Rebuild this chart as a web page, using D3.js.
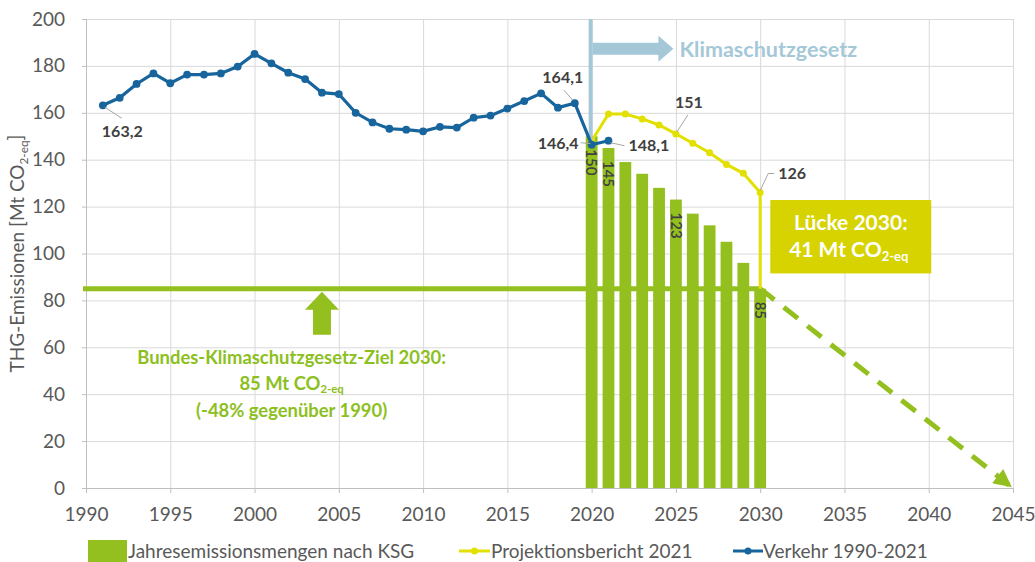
<!DOCTYPE html>
<html>
<head>
<meta charset="utf-8">
<script src="https://cdn.jsdelivr.net/npm/d3@7"></script>
<style>
  body { margin: 0; background: #fff; }
  svg { font-family: Lato, "Open Sans", sans-serif; }
</style>
</head>
<body>
<script>
// Verkehr 1990-2021 (Mt CO2-eq)
let verkehrYears = [1991, 1992, 1993, 1994, 1995, 1996, 1997, 1998, 1999, 2000,
                    2001, 2002, 2003, 2004, 2005, 2006, 2007, 2008, 2009, 2010,
                    2011, 2012, 2013, 2014, 2015, 2016, 2017, 2018, 2019, 2020, 2021];
let verkehrValues = [163.2, 166.4, 172.3, 176.8, 172.6, 176.3, 176.3, 176.8, 179.7, 185.1,
                     181.1, 177.1, 174.4, 168.6, 168.0, 160.0, 155.9, 153.2, 152.8, 152.1,
                     154.0, 153.7, 157.9, 158.8, 161.8, 165.0, 168.3, 162.2, 164.1, 146.4, 148.1];

// Projektionsbericht 2021
let projYears = [2020, 2021, 2022, 2023, 2024, 2025, 2026, 2027, 2028, 2029, 2030];
let projValues = [148, 159.5, 159.5, 157.4, 154.8, 151, 147, 143, 138, 134.2, 126];

// Jahresemissionsmengen nach KSG
let ksgYears = [2020, 2021, 2022, 2023, 2024, 2025, 2026, 2027, 2028, 2029, 2030];
let ksgValues = [150, 145, 139, 134, 128, 123, 117, 112, 105, 96, 85];
let ksgLabelled = [2020, 2021, 2025, 2030];

// Ziel
let targetValue = 85;
let targetStart = 1990, targetYear = 2030, neutralYear = 2045;

let xTicks = [1990, 1995, 2000, 2005, 2010, 2015, 2020, 2025, 2030, 2035, 2040, 2045];
let yTicks = [0, 20, 40, 60, 80, 100, 120, 140, 160, 180, 200];

const W = 1035, H = 562;
const margin = {top: 19, right: 22, bottom: 74, left: 86};

const green = '#93c01f', yellow = '#e2e000', blue = '#17659c', lightBlue = '#a5c8d8';
const labelColor = '#404040', tickColor = '#595959', gridColor = '#d9d9d9';

const de = d3.formatLocale({decimal: ',', thousands: '.', grouping: [3], currency: ['', ' €']});
const fmt1 = de.format('.1f');

let svg = d3.select('body').append('svg')
  .attr('width', W)
  .attr('height', H);

let x = d3.scaleLinear().domain([1990, 2045]).range([margin.left, W - margin.right]);
let y = d3.scaleLinear().domain([0, 200]).range([H - margin.bottom, margin.top]);
let plotW = W - margin.left - margin.right, plotH = H - margin.top - margin.bottom;

// gridlines
svg.append('g')
  .attr('transform', `translate(${margin.left},0)`)
  .call(d3.axisLeft(y).tickValues(yTicks).tickSize(-plotW).tickFormat(''))
  .call(g => g.select('.domain').remove())
  .call(g => g.selectAll('line').attr('stroke', gridColor));

svg.append('g')
  .attr('transform', `translate(0,${H - margin.bottom})`)
  .call(d3.axisBottom(x).tickValues(xTicks).tickSize(-plotH).tickFormat(''))
  .call(g => g.select('.domain').remove())
  .call(g => g.selectAll('line').attr('stroke', gridColor));

// axes
let xAxis = svg.append('g')
  .attr('transform', `translate(0,${H - margin.bottom})`)
  .call(d3.axisBottom(x).tickValues(xTicks).tickFormat(d3.format('d')).tickSize(5).tickPadding(15));
let yAxis = svg.append('g')
  .attr('transform', `translate(${margin.left},0)`)
  .call(d3.axisLeft(y).tickValues(yTicks).tickSize(4).tickPadding(17));
[xAxis, yAxis].forEach(a => {
  a.selectAll('path,line').attr('stroke', '#bfbfbf');
  a.selectAll('text').attr('fill', tickColor).style('font-size', '19px').style('font-family', 'Lato, sans-serif');
});

// helper: text with CO2-eq subscript
function subText(sel, before, sub, after) {
  sel.append('tspan').text(before);
  sel.append('tspan').text(sub).attr('font-size', '0.62em').attr('dy', '0.3em');
  if (after) sel.append('tspan').text(after).attr('dy', '-0.3em');
}

// y title
let yTitle = svg.append('text')
  .attr('transform', `translate(24,${(margin.top + H - margin.bottom) / 2}) rotate(-90)`)
  .attr('text-anchor', 'middle')
  .attr('fill', tickColor)
  .style('font-size', '19px');
subText(yTitle, 'THG-Emissionen [Mt CO', '2-eq', ']');

// KSG bars
let bw = (x(1) - x(0)) * 0.7;
let ksgData = ksgYears.map((yr, i) => ({yr, v: ksgValues[i]}));
svg.selectAll('rect.bar')
  .data(ksgData)
  .enter()
  .append('rect')
  .attr('class', 'bar')
  .attr('x', d => x(d.yr) - bw / 2)
  .attr('width', bw)
  .attr('y', d => y(d.v))
  .attr('height', d => y(0) - y(d.v))
  .attr('fill', green);

// target line
svg.append('line')
  .attr('x1', x(targetStart) - 3).attr('x2', x(targetYear))
  .attr('y1', y(targetValue)).attr('y2', y(targetValue))
  .attr('stroke', green).attr('stroke-width', 5);

// dashed path to 2045
let defs = svg.append('defs');
defs.append('marker')
  .attr('id', 'ahead')
  .attr('viewBox', '0 0 10 10')
  .attr('refX', 8).attr('refY', 5)
  .attr('markerWidth', 20).attr('markerHeight', 18)
  .attr('markerUnits', 'userSpaceOnUse')
  .attr('orient', 'auto')
  .append('path')
  .attr('d', 'M0,0 L10,5 L0,10 Z')
  .attr('fill', green);

svg.append('line')
  .attr('x1', x(targetYear)).attr('y1', y(targetValue))
  .attr('x2', x(neutralYear) - 4).attr('y2', y(0) - 3)
  .attr('stroke', green).attr('stroke-width', 5)
  .attr('stroke-dasharray', '18,12')
  .attr('marker-end', 'url(#ahead)');

// projection line
let line = d3.line().x(d => x(d[0])).y(d => y(d[1]));
let projPts = projYears.map((yr, i) => [yr, projValues[i]]);
svg.append('path')
  .attr('d', line(projPts.concat([[targetYear, targetValue]])))
  .attr('fill', 'none').attr('stroke', yellow).attr('stroke-width', 3);
svg.selectAll('circle.proj')
  .data(projPts)
  .enter().append('circle')
  .attr('class', 'proj')
  .attr('cx', d => x(d[0])).attr('cy', d => y(d[1]))
  .attr('r', 3.5).attr('fill', yellow);

// Klimaschutzgesetz marker
svg.append('line')
  .attr('x1', x(2020) - 1).attr('x2', x(2020) - 1)
  .attr('y1', y(200)).attr('y2', y(148))
  .attr('stroke', lightBlue).attr('stroke-width', 4);
{
  let x0 = x(2020) + 1, xt = x(2024.85), yc = y(187.3);
  let hl = 15, sh = 6, hh = 13;
  svg.append('path')
    .attr('d', `M${x0},${yc - sh}L${xt - hl},${yc - sh}L${xt - hl},${yc - hh}L${xt},${yc}L${xt - hl},${yc + hh}L${xt - hl},${yc + sh}L${x0},${yc + sh}Z`)
    .attr('fill', lightBlue);
  svg.append('text')
    .attr('x', xt + 6).attr('y', yc).attr('dy', '0.36em')
    .attr('fill', lightBlue)
    .style('font-size', '21.5px').style('font-weight', 700)
    .text('Klimaschutzgesetz');
}

// Verkehr line
let verkPts = verkehrYears.map((yr, i) => [yr, verkehrValues[i]]);
svg.append('path')
  .attr('d', line(verkPts))
  .attr('fill', 'none').attr('stroke', blue).attr('stroke-width', 3.2);
svg.selectAll('circle.verk')
  .data(verkPts)
  .enter().append('circle')
  .attr('class', 'verk')
  .attr('cx', d => x(d[0])).attr('cy', d => y(d[1]))
  .attr('r', 3.9).attr('fill', blue);

// bar labels (on top of the lines)
svg.selectAll('text.barlab')
  .data(ksgData.filter(d => ksgLabelled.includes(d.yr)))
  .enter()
  .append('text')
  .attr('class', 'barlab')
  .attr('transform', d => `translate(${x(d.yr)},${y(d.v) + 13}) rotate(90)`)
  .attr('dy', '0.35em')
  .attr('fill', labelColor)
  .style('font-size', '15px')
  .style('font-weight', 600)
  .text(d => d.v);

// data labels with leader lines (offsets in px from the point)
let pointLabels = [
  {yr: 1991, v: verkehrValues[0], text: fmt1(verkehrValues[0]), dx: -1, dy: 26, anchor: 'start', lead: [[2, 2], [19, 13]]},
  {yr: 2019, v: verkehrValues[28], text: fmt1(verkehrValues[28]), dx: -12, dy: -26, anchor: 'middle', lead: [[-11, -13], [-2, -3]]},
  {yr: 2020, v: verkehrValues[29], text: fmt1(verkehrValues[29]), dx: -13, dy: -1, anchor: 'end', lead: [[-11, -2], [-1, -1]]},
  {yr: 2021, v: verkehrValues[30], text: fmt1(verkehrValues[30]), dx: 20, dy: 5, anchor: 'start', lead: [[2, 2], [16, 5]]},
  {yr: 2025, v: projValues[5], text: String(projValues[5]), dx: 13, dy: -32, anchor: 'middle', lead: [[1, -2], [12, -19]]},
  {yr: 2030, v: projValues[10], text: String(projValues[10]), dx: 18, dy: -19, anchor: 'start', lead: [[0, -2], [8, -19], [14, -19]]}
];
pointLabels.forEach(l => {
  let px = x(l.yr), py = y(l.v);
  svg.append('polyline')
    .attr('points', l.lead.map(p => `${px + p[0]},${py + p[1]}`).join(' '))
    .attr('fill', 'none').attr('stroke', '#a6a6a6').attr('stroke-width', 1);
  svg.append('text')
    .attr('x', px + l.dx).attr('y', py + l.dy).attr('dy', '0.36em')
    .attr('text-anchor', l.anchor)
    .attr('fill', labelColor)
    .style('font-size', '16px').style('font-weight', 700)
    .text(l.text);
});

// Lücke box
{
  let bx = x(2030.6), by = y(122.8), bw2 = x(2040.15) - x(2030.6), bh = y(91.5) - y(122.8);
  svg.append('rect')
    .attr('x', bx).attr('y', by).attr('width', bw2).attr('height', bh)
    .attr('fill', '#d6d300');
  svg.append('text')
    .attr('x', bx + bw2 / 2).attr('y', by + 22).attr('dy', '0.36em')
    .attr('text-anchor', 'middle').attr('fill', '#fff')
    .style('font-size', '21px').style('font-weight', 700)
    .text(`Lücke 2030:`);
  let t2 = svg.append('text')
    .attr('x', bx + bw2 / 2 - 2).attr('y', by + 49).attr('dy', '0.36em')
    .attr('text-anchor', 'middle').attr('fill', '#fff')
    .style('font-size', '21px').style('font-weight', 700);
  subText(t2, `${projValues[10] - targetValue} Mt CO`, '2-eq');
}

// Ziel annotation
{
  let ax = x(2004), tip = y(targetValue) + 3;
  let hw = 17, sw = 9, hl = 18, bot = tip + 43;
  svg.append('path')
    .attr('d', `M${ax},${tip}L${ax + hw},${tip + hl}L${ax + sw},${tip + hl}L${ax + sw},${bot}L${ax - sw},${bot}L${ax - sw},${tip + hl}L${ax - hw},${tip + hl}Z`)
    .attr('fill', green);
  let cx = x(2002.2);
  let g = svg.append('g')
    .attr('fill', '#8cc021')
    .attr('text-anchor', 'middle')
    .style('font-size', '18.4px').style('font-weight', 700);
  g.append('text').attr('x', cx).attr('y', 357).attr('dy', '0.36em')
    .text(`Bundes-Klimaschutzgesetz-Ziel ${targetYear}:`);
  let t = g.append('text').attr('x', cx).attr('y', 383).attr('dy', '0.36em');
  subText(t, `${targetValue} Mt CO`, '2-eq');
  g.append('text').attr('x', cx).attr('y', 410).attr('dy', '0.36em')
    .text('(-48% gegenüber 1990)');
}

// legend
let legend = svg.append('g').style('font-size', '19px').attr('fill', tickColor);
legend.append('rect').attr('x', 88).attr('y', 540).attr('width', 39).attr('height', 24).attr('fill', green);
legend.append('text').attr('x', 128).attr('y', 551).attr('dy', '0.36em').text('Jahresemissionsmengen nach KSG');
legend.append('line').attr('x1', 459).attr('x2', 490).attr('y1', 551).attr('y2', 551).attr('stroke', yellow).attr('stroke-width', 3);
legend.append('circle').attr('cx', 474.5).attr('cy', 551).attr('r', 3.5).attr('fill', yellow);
legend.append('text').attr('x', 491).attr('y', 551).attr('dy', '0.36em').text('Projektionsbericht 2021');
legend.append('line').attr('x1', 733).attr('x2', 763).attr('y1', 551).attr('y2', 551).attr('stroke', blue).attr('stroke-width', 3);
legend.append('circle').attr('cx', 748).attr('cy', 551).attr('r', 3.5).attr('fill', blue);
legend.append('text').attr('x', 763).attr('y', 551).attr('dy', '0.36em').text('Verkehr 1990-2021');
</script>
</body>
</html>
